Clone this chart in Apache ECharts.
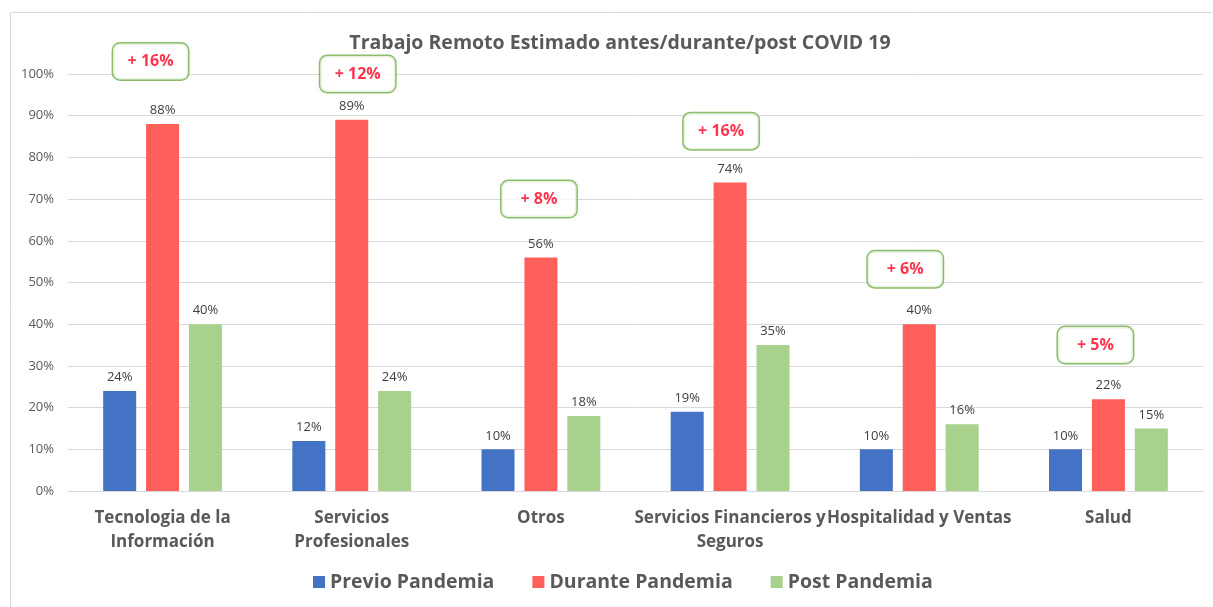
<!DOCTYPE html>
<html>
<head>
<meta charset="utf-8">
<script src="https://cdn.jsdelivr.net/npm/echarts@6/dist/echarts.min.js"></script>
<style>
html,body{margin:0;padding:0;background:#fff;}
#chart{width:1213px;height:607px;}
</style>
</head>
<body>
<div id="chart"></div>
<script>
var categories = ['Tecnologia de la\nInformación', 'Servicios\nProfesionales', 'Otros', 'Servicios Financieros y\nSeguros', 'Hospitalidad y Ventas', 'Salud'];
var previo = [24, 12, 10, 19, 10, 10];
var durante = [88, 89, 56, 74, 40, 22];
var post = [40, 24, 18, 35, 16, 15];
var calloutText = ['+ 16%', '+ 12%', '+ 8%', '+ 16%', '+ 6%', '+ 5%'];
var calloutAt = [103, 100, 70, 86.3, 53.2, 35];
var calloutShift = [-12, 6, -2, -9, -14, -13];
var yTicks = [0, 10, 20, 30, 40, 50, 60, 70, 80, 90, 100];

var FONT = '"Open Sans", "Noto Sans", sans-serif';
var chart = echarts.init(document.getElementById('chart'));

function barSeries(name, data, color) {
  return {
    name: name, type: 'bar', data: data, barWidth: 33, barGap: '30%',
    itemStyle: { color: color },
    label: { show: true, position: 'top', distance: 7, formatter: '{c}%', color: '#404040', fontSize: 13, fontFamily: FONT }
  };
}

var option = {
  animation: false,
  title: {
    text: 'Trabajo Remoto Estimado antes/durante/post COVID 19',
    left: 615, top: 28, textAlign: 'center',
    textStyle: { fontFamily: FONT, fontSize: 19.5, fontWeight: 'bold', color: '#595959' }
  },
  graphic: [{
    type: 'rect', shape: { x: 10.5, y: 12.5, width: 1230, height: 640 }, silent: true, z: -10,
    style: { fill: '#fff', stroke: '#D9D9D9', lineWidth: 1 }
  }],
  legend: {
    bottom: 10, left: 308, itemWidth: 12, itemHeight: 12, itemGap: 38, icon: 'rect',
    textStyle: { fontFamily: FONT, fontSize: 19.5, fontWeight: 'bold', color: '#595959' },
    data: ['Previo Pandemia', 'Durante Pandemia', 'Post Pandemia']
  },
  grid: { left: 68, right: 10, top: 74, bottom: 116, containLabel: false },
  xAxis: {
    type: 'category', data: categories,
    axisLine: { lineStyle: { color: '#D9D9D9' } },
    axisTick: { show: false },
    axisLabel: { interval: 0, margin: 15, fontFamily: FONT, fontSize: 17, fontWeight: 'bold', color: '#595959', lineHeight: 24 }
  },
  yAxis: {
    type: 'value', min: 0, max: 100, interval: 10,
    axisLabel: { formatter: '{value}%', margin: 14, fontFamily: FONT, fontSize: 13, color: '#595959' },
    splitLine: { lineStyle: { color: '#D9D9D9' } },
    axisLine: { show: false }, axisTick: { show: false }
  },
  series: [
    barSeries('Previo Pandemia', previo, '#4472C4'),
    barSeries('Durante Pandemia', durante, '#FF5F5A'),
    barSeries('Post Pandemia', post, '#A9D18E'),
    {
      type: 'scatter', clip: false, z: 5, silent: true,
      symbolSize: 1, itemStyle: { color: 'rgba(0,0,0,0)' },
      label: {
        show: true, position: 'inside', color: '#FF0022', fontFamily: FONT, fontSize: 16, fontWeight: 'bold',
        backgroundColor: '#fff', borderColor: '#70AD47', borderWidth: 1.5, borderRadius: 7,
        width: 75, height: 36, lineHeight: 36, align: 'center', verticalAlign: 'middle',
        formatter: function (p) { return calloutText[p.dataIndex]; }
      },
      data: calloutAt.map(function (v, i) {
        return { value: [i, v], label: { offset: [calloutShift[i], 0] } };
      })
    }
  ]
};
chart.setOption(option);
</script>
</body>
</html>
